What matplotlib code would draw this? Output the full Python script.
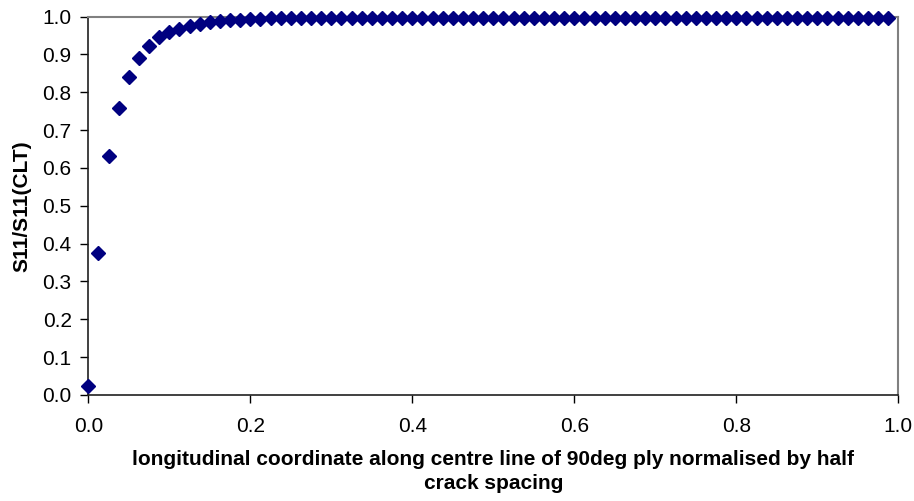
import matplotlib
matplotlib.use("Agg")
import matplotlib.pyplot as plt
import numpy as np

plt.rcParams['font.family'] = ['Liberation Sans', 'DejaVu Sans']

step = 0.0125
n_points = 80
head_values = [0.025, 0.374, 0.632, 0.758, 0.840, 0.890, 0.923, 0.946, 0.958,
               0.967, 0.974, 0.980, 0.985, 0.988, 0.990, 0.992, 0.993, 0.994]
plateau_value = 0.995
y_values = head_values + [plateau_value] * (n_points - len(head_values))
x_values = [i * step for i in range(n_points)]

x_ticks = [0.0, 0.2, 0.4, 0.6, 0.8, 1.0]
y_ticks = [0.0, 0.1, 0.2, 0.3, 0.4, 0.5, 0.6, 0.7, 0.8, 0.9, 1.0]

fig = plt.figure(figsize=(9.14, 5.01), dpi=100)
ax = fig.add_axes([88.3/914, 1 - 395/501, (898.3-88.3)/914, (395-16.5)/501])
ax.plot(x_values, y_values, linestyle='none', marker='D', markersize=7.2,
        color='#000080', clip_on=False, zorder=3)
ax.set_xlim(0, 1)
ax.set_ylim(0, 1)
ax.set_xticks(x_ticks)
ax.set_xticklabels([f"{v:.1f}" for v in x_ticks])
ax.set_yticks(y_ticks)
ax.set_yticklabels([f"{v:.1f}" for v in y_ticks])
ax.tick_params(axis='both', direction='out', length=6, width=1, labelsize=15, colors='black')
ax.tick_params(axis='x', pad=10)
ax.tick_params(axis='y', pad=6)
for s in ['top', 'right']:
    ax.spines[s].set_color('#808080')
    ax.spines[s].set_linewidth(1.5)
for s in ['left', 'bottom']:
    ax.spines[s].set_color('#202020')
    ax.spines[s].set_linewidth(1.2)
ax.set_xlabel('longitudinal coordinate along centre line of 90deg ply normalised by half\ncrack spacing',
              fontsize=15, fontweight='bold', labelpad=10, linespacing=1.32)
ax.set_ylabel('S11/S11(CLT)', fontsize=15, fontweight='bold', labelpad=8)
fig.savefig('out.png', dpi=100)
